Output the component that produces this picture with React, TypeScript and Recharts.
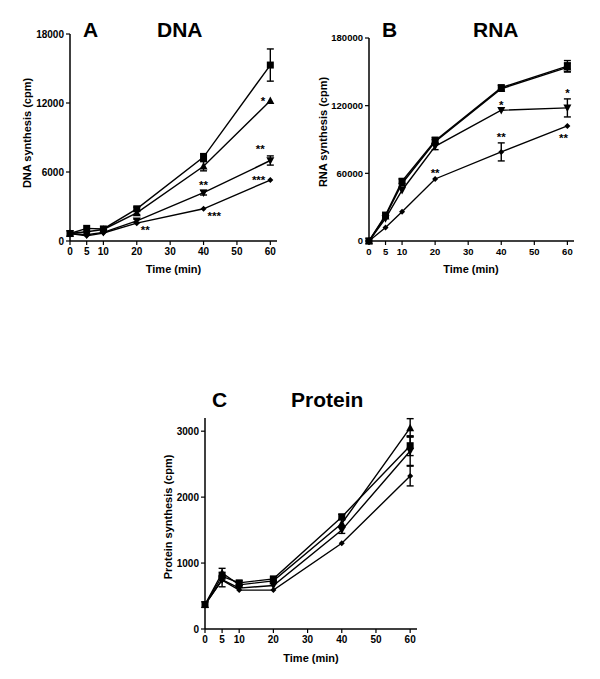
import React from 'react';
import { LineChart, Line, XAxis, YAxis, ErrorBar, ReferenceDot } from 'recharts';

const FONT = '"Liberation Sans", Arial, Helvetica, sans-serif';

// ---------- shared ----------
const times = [0, 5, 10, 20, 40, 60];
const xTicks = [0, 5, 10, 20, 30, 40, 50, 60];

// ---------- A: DNA ----------
const dnaSquare = [650, 1100, 1050, 2800, 7300, 15300];
const dnaSquareErr = [0, 0, 0, 150, 300, 1400];
const dnaTriUp = [650, 800, 1000, 2450, 6500, 12200];
const dnaTriUpErr = [0, 0, 0, 150, 400, 0];
const dnaTriDown = [650, 550, 750, 1750, 4200, 7000];
const dnaTriDownErr = [0, 0, 0, 150, 200, 400];
const dnaDiamond = [650, 450, 700, 1550, 2800, 5300];
const dnaDiamondErr = [0, 0, 0, 0, 0, 0];
const dnaTicks = [0, 6000, 12000, 18000];
const dnaStars = [
  { series: 'triUp', time: 60, text: '*', place: 'left' },
  { series: 'triDown', time: 60, text: '**', place: 'aboveLeft' },
  { series: 'triDown', time: 40, text: '**', place: 'above' },
  { series: 'diamond', time: 60, text: '***', place: 'left' },
  { series: 'diamond', time: 40, text: '***', place: 'belowRight' },
  { series: 'diamond', time: 20, text: '**', place: 'belowRight' },
];

// ---------- B: RNA ----------
const rnaSquare = [0, 23000, 53000, 89000, 136000, 155000];
const rnaSquareErr = [0, 0, 2000, 3000, 2000, 5000];
const rnaTriUp = [0, 22000, 51000, 88000, 135000, 154000];
const rnaTriUpErr = [0, 0, 0, 2000, 0, 4000];
const rnaTriDown = [0, 20000, 45000, 84000, 116000, 118000];
const rnaTriDownErr = [0, 0, 0, 3000, 0, 8000];
const rnaDiamond = [0, 12000, 26000, 55000, 79000, 102000];
const rnaDiamondErr = [0, 0, 0, 0, 8000, 0];
const rnaTicks = [0, 60000, 120000, 180000];
const rnaStars = [
  { series: 'triDown', time: 40, text: '*', place: 'above' },
  { series: 'triDown', time: 60, text: '*', place: 'above' },
  { series: 'diamond', time: 20, text: '**', place: 'above' },
  { series: 'diamond', time: 40, text: '**', place: 'above' },
  { series: 'diamond', time: 60, text: '**', place: 'below' },
];

// ---------- C: Protein ----------
const protSquare = [370, 800, 700, 760, 1700, 2780];
const protSquareErr = [0, 0, 30, 30, 40, 150];
const protTriUp = [370, 850, 670, 730, 1600, 3050];
const protTriUpErr = [0, 70, 0, 0, 60, 140];
const protTriDown = [370, 750, 620, 660, 1500, 2700];
const protTriDownErr = [0, 110, 0, 0, 50, 220];
const protDiamond = [370, 740, 590, 590, 1300, 2320];
const protDiamondErr = [0, 0, 0, 0, 0, 150];
const protTicks = [0, 1000, 2000, 3000];
const protStars: { series: string; time: number; text: string; place: string }[] = [];

// ---------- builders ----------
function buildRows(sq, sqE, tu, tuE, td, tdE, di, diE) {
  return times.map((t, i) => ({
    time: t,
    square: sq[i], squareErr: sqE[i],
    triUp: tu[i], triUpErr: tuE[i],
    triDown: td[i], triDownErr: tdE[i],
    diamond: di[i], diamondErr: diE[i],
  }));
}

const SquareDot = (p: any) => {
  const { cx, cy } = p;
  if (cx == null || cy == null) return <g />;
  return <rect x={cx - 3.5} y={cy - 3.5} width={7} height={7} fill="#000" />;
};
const TriUpDot = (p: any) => {
  const { cx, cy } = p;
  if (cx == null || cy == null) return <g />;
  return <polygon points={`${cx},${cy - 4.2} ${cx + 4},${cy + 3.3} ${cx - 4},${cy + 3.3}`} fill="#000" />;
};
const TriDownDot = (p: any) => {
  const { cx, cy } = p;
  if (cx == null || cy == null) return <g />;
  return <polygon points={`${cx},${cy + 4.2} ${cx + 4},${cy - 3.3} ${cx - 4},${cy - 3.3}`} fill="#000" />;
};
const DiamondDot = (p: any) => {
  const { cx, cy } = p;
  if (cx == null || cy == null) return <g />;
  return <polygon points={`${cx},${cy - 3} ${cx + 3},${cy} ${cx},${cy + 3} ${cx - 3},${cy}`} fill="#000" />;
};

const seriesDefs = [
  { key: 'diamond', dot: DiamondDot },
  { key: 'triDown', dot: TriDownDot },
  { key: 'triUp', dot: TriUpDot },
  { key: 'square', dot: SquareDot },
];

const placeStyle: Record<string, { anchor: string; dx: number; dy: number; useErr: boolean }> = {
  left: { anchor: 'end', dx: -5, dy: 4.4, useErr: false },
  above: { anchor: 'middle', dx: 0, dy: -1.6, useErr: true },
  aboveLeft: { anchor: 'middle', dx: -10, dy: -3, useErr: true },
  belowRight: { anchor: 'start', dx: 4, dy: 11, useErr: false },
  below: { anchor: 'middle', dx: -4, dy: 16.4, useErr: false },
};

function Panel({ left, top, width, height, margin, yWidth, yDomain, yTicks, rows, stars, tickFont }) {
  const tickStyle = { fill: '#000', fontSize: tickFont, fontWeight: 'bold', fontFamily: FONT };
  return (
    <div style={{ position: 'absolute', left, top, width, height }}>
      <LineChart width={width} height={height} data={rows} margin={margin}>
        <XAxis
          dataKey="time"
          type="number"
          domain={[0, 62]}
          ticks={xTicks}
          interval={0}
          tickSize={4}
          tickMargin={3}
          height={40}
          axisLine={{ stroke: '#000', strokeWidth: 1.5 }}
          tickLine={{ stroke: '#000', strokeWidth: 1.2 }}
          tick={tickStyle}
        />
        <YAxis
          type="number"
          domain={yDomain}
          ticks={yTicks}
          interval={0}
          width={yWidth}
          tickSize={4}
          tickMargin={2}
          axisLine={{ stroke: '#000', strokeWidth: 1.5 }}
          tickLine={{ stroke: '#000', strokeWidth: 1.2 }}
          tick={tickStyle}
        />
        {seriesDefs.map((s) => (
          <Line
            key={s.key}
            type="linear"
            dataKey={s.key}
            stroke="#000"
            strokeWidth={1.4}
            dot={s.dot}
            activeDot={false}
            isAnimationActive={false}
          >
            <ErrorBar dataKey={s.key + 'Err'} width={3.5} stroke="#000" strokeWidth={1.4} direction="y" />
          </Line>
        ))}
        {stars.map((st, i) => {
          const row = rows.find((r) => r.time === st.time);
          const ps = placeStyle[st.place];
          const yVal = row[st.series] + (ps.useErr ? row[st.series + 'Err'] : 0);
          return (
            <ReferenceDot
              key={'star' + i}
              x={st.time}
              y={yVal}
              r={0}
              ifOverflow="visible"
              shape={(p: any) => (
                <text
                  x={p.cx + ps.dx}
                  y={p.cy + ps.dy}
                  textAnchor={ps.anchor}
                  fontSize={11.5}
                  fontWeight="bold"
                  fontFamily={FONT}
                  fill="#000"
                >
                  {st.text}
                </text>
              )}
            />
          );
        })}
      </LineChart>
    </div>
  );
}

const dnaRows = buildRows(dnaSquare, dnaSquareErr, dnaTriUp, dnaTriUpErr, dnaTriDown, dnaTriDownErr, dnaDiamond, dnaDiamondErr);
const rnaRows = buildRows(rnaSquare, rnaSquareErr, rnaTriUp, rnaTriUpErr, rnaTriDown, rnaTriDownErr, rnaDiamond, rnaDiamondErr);
const protRows = buildRows(protSquare, protSquareErr, protTriUp, protTriUpErr, protTriDown, protTriDownErr, protDiamond, protDiamondErr);

const titleStyle = { fontSize: 21, fontWeight: 'bold', fontFamily: FONT, fill: '#000' } as const;
const axisTitleStyle = { fontSize: 11, fontWeight: 'bold', fontFamily: FONT, fill: '#000' } as const;

export default function App() {
  return (
    <div style={{ position: 'absolute', left: 0, top: 0, width: 600, height: 679, background: '#fff', overflow: 'hidden' }}>
      <Panel
        left={0} top={0} width={300} height={290}
        margin={{ top: 34, right: 23, bottom: 9, left: 20 }}
        yWidth={50} yDomain={[0, 18000]} yTicks={dnaTicks}
        rows={dnaRows} stars={dnaStars} tickFont={10}
      />
      <Panel
        left={300} top={0} width={300} height={290}
        margin={{ top: 38, right: 26, bottom: 9, left: 19 }}
        yWidth={50} yDomain={[0, 180000]} yTicks={rnaTicks}
        rows={rnaRows} stars={rnaStars} tickFont={9.5}
      />
      <Panel
        left={150} top={380} width={300} height={290}
        margin={{ top: 38, right: 33, bottom: 1, left: 15 }}
        yWidth={40} yDomain={[0, 3200]} yTicks={protTicks}
        rows={protRows} stars={protStars} tickFont={10}
      />
      <svg width={600} height={679} style={{ position: 'absolute', left: 0, top: 0, pointerEvents: 'none' }}>
        <text x={83} y={37} {...titleStyle}>A</text>
        <text x={157} y={37} {...titleStyle}>DNA</text>
        <text x={382} y={37} {...titleStyle}>B</text>
        <text x={473} y={37} {...titleStyle}>RNA</text>
        <text x={212} y={407} {...titleStyle}>C</text>
        <text x={291} y={407} {...titleStyle}>Protein</text>

        <text x={173.5} y={273} textAnchor="middle" {...axisTitleStyle}>Time (min)</text>
        <text x={471} y={273} textAnchor="middle" {...axisTitleStyle}>Time (min)</text>
        <text x={311} y={662} textAnchor="middle" {...axisTitleStyle}>Time (min)</text>

        <text transform="translate(27,133) rotate(-90)" textAnchor="middle" dy="0.36em" {...axisTitleStyle}>DNA synthesis (cpm)</text>
        <text transform="translate(323,132) rotate(-90)" textAnchor="middle" dy="0.36em" {...axisTitleStyle}>RNA synthesis (cpm)</text>
        <text transform="translate(168,517) rotate(-90)" textAnchor="middle" dy="0.36em" {...axisTitleStyle}>Protein synthesis (cpm)</text>
      </svg>
    </div>
  );
}
